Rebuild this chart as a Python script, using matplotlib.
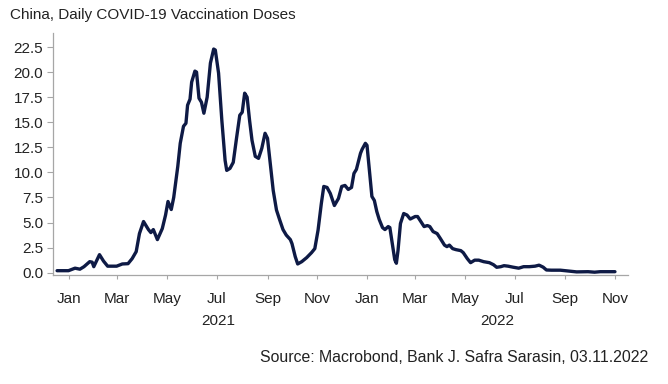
import numpy as np
import pandas as pd
import matplotlib
matplotlib.use("Agg")
import matplotlib.pyplot as plt
import matplotlib.dates as mdates
import matplotlib.transforms as mtransforms

# Days since 2021-01-01 and daily vaccination doses
days = [-15, -1, 7, 13, 18, 25, 28, 30, 37, 42, 47, 58, 65, 72, 77, 82, 86, 91,
        97, 100, 103, 108, 114, 118, 121, 125, 128, 133, 136, 140, 143, 145,
        148, 150, 154, 156, 159, 162, 165, 169, 173, 177, 179, 183, 187, 191,
        193, 197, 201, 205, 209, 212, 215, 218, 221, 224, 228, 232, 236, 240,
        243, 246, 250, 254, 258, 262, 266, 271, 273, 277, 280, 285, 291, 297,
        301, 305, 309, 312, 316, 320, 325, 330, 334, 338, 342, 346, 349, 352,
        357, 359, 363, 365, 368, 371, 374, 377, 380, 384, 387, 391, 393, 396,
        399, 401, 403, 406, 410, 414, 418, 424, 427, 431, 435, 439, 442, 446,
        451, 455, 460, 463, 466, 470, 474, 480, 483, 488, 492, 497, 502, 508,
        515, 520, 524, 529, 533, 538, 544, 551, 557, 564, 571, 576, 581, 585,
        591, 602, 608, 614, 622, 636, 644, 651, 669]
doses = [0.2, 0.2, 0.45, 0.35, 0.6, 1.1, 1.05, 0.6, 1.8, 1.15, 0.65, 0.65, 0.87,
         0.9, 1.4, 2.1, 3.9, 5.1, 4.3, 4.0, 4.3, 3.3, 4.4, 5.75, 7.1, 6.3, 7.5,
         10.6, 12.9, 14.6, 14.9, 16.7, 17.3, 19.0, 20.1, 20.0, 17.4, 17.0, 15.9,
         17.5, 20.9, 22.3, 22.2, 19.9, 15.2, 11.2, 10.2, 10.4, 11.0, 13.4, 15.7,
         16.0, 17.9, 17.5, 15.2, 13.2, 11.6, 11.4, 12.4, 13.9, 13.4, 11.2, 8.2,
         6.25, 5.25, 4.3, 3.75, 3.3, 2.9, 1.6, 0.87, 1.1, 1.5, 2.0, 2.4, 4.25,
         6.9, 8.6, 8.5, 7.9, 6.7, 7.4, 8.6, 8.7, 8.3, 8.5, 9.9, 10.3, 11.9,
         12.3, 12.9, 12.7, 10.2, 7.6, 7.2, 6.1, 5.3, 4.5, 4.3, 4.6, 4.5, 2.9,
         1.3, 0.94, 2.2, 4.9, 5.9, 5.75, 5.35, 5.6, 5.6, 5.1, 4.6, 4.7, 4.6,
         4.1, 3.9, 3.4, 2.75, 2.6, 2.75, 2.4, 2.3, 2.2, 2.0, 1.4, 1.0, 1.25,
         1.25, 1.1, 1.0, 0.8, 0.54, 0.6, 0.7, 0.65, 0.55, 0.45, 0.6, 0.6, 0.65,
         0.75, 0.55, 0.27, 0.25, 0.25, 0.2, 0.14, 0.08, 0.1, 0.05, 0.1, 0.1]

title = "China, Daily COVID-19 Vaccination Doses"
source = "Source: Macrobond, Bank J. Safra Sarasin, 03.11.2022"
yticks = [0.0, 2.5, 5.0, 7.5, 10.0, 12.5, 15.0, 17.5, 20.0, 22.5]
years = [2021, 2022]

base = pd.Timestamp("2021-01-01")
dates = base + pd.to_timedelta(days, unit="D")

plt.rcParams["font.family"] = ["Liberation Sans", "DejaVu Sans"]

fig = plt.figure(figsize=(6.68, 3.84), dpi=100)
ax = fig.add_axes([53 / 668, 1 - 275 / 384, (628 - 53) / 668, (275 - 33) / 384])

line_color = "#0e1a45"
ax.plot(dates, doses, color=line_color, lw=2.4, solid_joinstyle="round",
        solid_capstyle="round")

xmin = pd.Timestamp("2020-12-12")
xmax = pd.Timestamp("2022-11-17")
ax.set_xlim(xmin, xmax)
ax.set_ylim(-0.23, 23.9)

ax.set_yticks(yticks)
ax.set_yticklabels([f"{v:.1f}" for v in yticks])

ax.xaxis.set_major_locator(mdates.MonthLocator(bymonth=[1, 3, 5, 7, 9, 11]))
ax.xaxis.set_major_formatter(mdates.DateFormatter("%b"))

for s in ["top", "right"]:
    ax.spines[s].set_visible(False)
for s in ["left", "bottom"]:
    ax.spines[s].set_color("#a6a6a6")
    ax.spines[s].set_linewidth(0.9)

ax.tick_params(axis="y", length=4, width=0.8, color="#a6a6a6", pad=3,
               labelsize=11, labelcolor="#222222")
ax.tick_params(axis="x", length=3, width=0.8, color="#a6a6a6", pad=9,
               labelsize=11, labelcolor="#222222")

# Year labels centred on visible portion of each year
trans = mtransforms.blended_transform_factory(ax.transData, ax.transAxes)
for yr in years:
    start = max(pd.Timestamp(f"{yr}-01-01"), xmin)
    end = min(pd.Timestamp(f"{yr + 1}-01-01"), xmax)
    mid = start + (end - start) / 2
    ax.text(mdates.date2num(mid), -0.19, str(yr), transform=trans,
            ha="center", va="center", fontsize=11, color="#222222")

fig.text(10 / 668, 1 - 15 / 384, title, ha="left", va="center",
         fontsize=11, color="#222222")
fig.text(648 / 668, 1 - 357 / 384, source, ha="right", va="center",
         fontsize=11.4, color="#222222")

fig.savefig("out.png", dpi=100, facecolor="white")
